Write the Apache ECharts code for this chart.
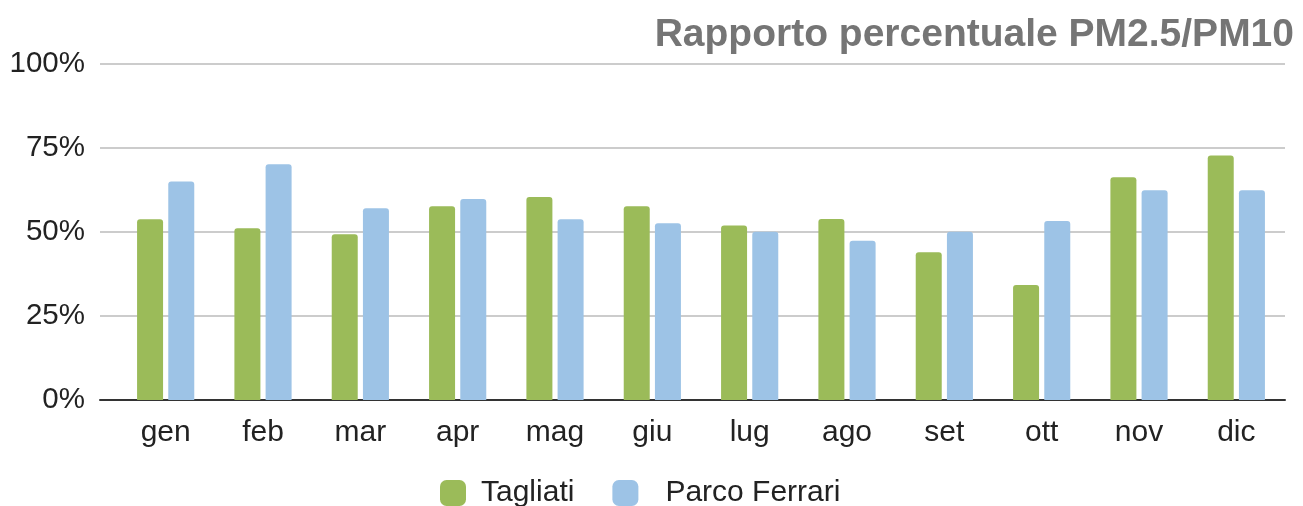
<!DOCTYPE html>
<html>
<head>
<meta charset="utf-8">
<script src="https://cdn.jsdelivr.net/npm/echarts@6/dist/echarts.min.js"></script>
<style>
  html, body { margin: 0; padding: 0; background: #fff; }
  #chart { width: 1303px; height: 506px; }
</style>
</head>
<body>
<div id="chart"></div>
<script>
var mesi = ["gen", "feb", "mar", "apr", "mag", "giu", "lug", "ago", "set", "ott", "nov", "dic"];
var tagliati = [53.8, 51.1, 49.3, 57.7, 60.4, 57.7, 51.9, 53.9, 44.0, 34.2, 66.3, 72.8];
var parcoFerrari = [65.0, 70.2, 57.1, 59.8, 53.8, 52.6, 50.1, 47.4, 50.1, 53.3, 62.4, 62.4];

var font = '"Liberation Sans", Arial, sans-serif';
var chart = echarts.init(document.getElementById("chart"));
// grid 0 holds the bars, grid 1 (a bit wider on the left) holds gridlines, y labels and the base line
var option = {
  animation: false,
  title: {
    text: "Rapporto percentuale PM2.5/PM10",
    right: 4,
    top: 11,
    textStyle: { fontFamily: font, fontSize: 39, fontWeight: "bold", color: "#757575" }
  },
  legend: {
    left: 435,
    top: 473,
    itemWidth: 26,
    itemHeight: 26,
    itemGap: 38,
    icon: "roundRect",
    textStyle: { fontFamily: font, fontSize: 30, color: "#222", padding: [0, 0, 0, 10] },
    data: [
      "Tagliati",
      { name: "Parco Ferrari", textStyle: { padding: [0, 0, 0, 22] } }
    ]
  },
  grid: [
    { left: 117, right: 18, top: 64, bottom: 106 },
    { left: 100, right: 18, top: 64, bottom: 106 }
  ],
  xAxis: [
    {
      type: "category",
      gridIndex: 0,
      data: mesi,
      axisLine: { show: false },
      axisTick: { show: false },
      axisLabel: { fontFamily: font, fontSize: 30, color: "#222", margin: 18 }
    },
    {
      type: "value",
      gridIndex: 1,
      min: 0,
      max: 1,
      axisLine: { show: true, lineStyle: { color: "#333", width: 2 } },
      axisTick: { show: false },
      axisLabel: { show: false },
      splitLine: { show: false }
    }
  ],
  yAxis: [
    {
      type: "value",
      gridIndex: 0,
      min: 0,
      max: 100,
      interval: 25,
      show: false,
      splitLine: { show: false }
    },
    {
      type: "value",
      gridIndex: 1,
      min: 0,
      max: 100,
      interval: 25,
      axisLine: { show: false },
      axisTick: { show: false },
      splitLine: { lineStyle: { color: "#cccccc", width: 2 } },
      axisLabel: { fontFamily: font, fontSize: 29.5, color: "#222", margin: 15, formatter: "{value}%" }
    }
  ],
  series: [
    {
      name: "Tagliati",
      type: "bar",
      xAxisIndex: 0,
      yAxisIndex: 0,
      data: tagliati,
      barWidth: 26,
      barGap: "20%",
      itemStyle: { color: "#9BBB59", borderRadius: [3, 3, 0, 0] }
    },
    {
      name: "Parco Ferrari",
      type: "bar",
      xAxisIndex: 0,
      yAxisIndex: 0,
      data: parcoFerrari,
      barWidth: 26,
      itemStyle: { color: "#9DC3E6", borderRadius: [3, 3, 0, 0] }
    }
  ]
};
chart.setOption(option);
</script>
</body>
</html>
